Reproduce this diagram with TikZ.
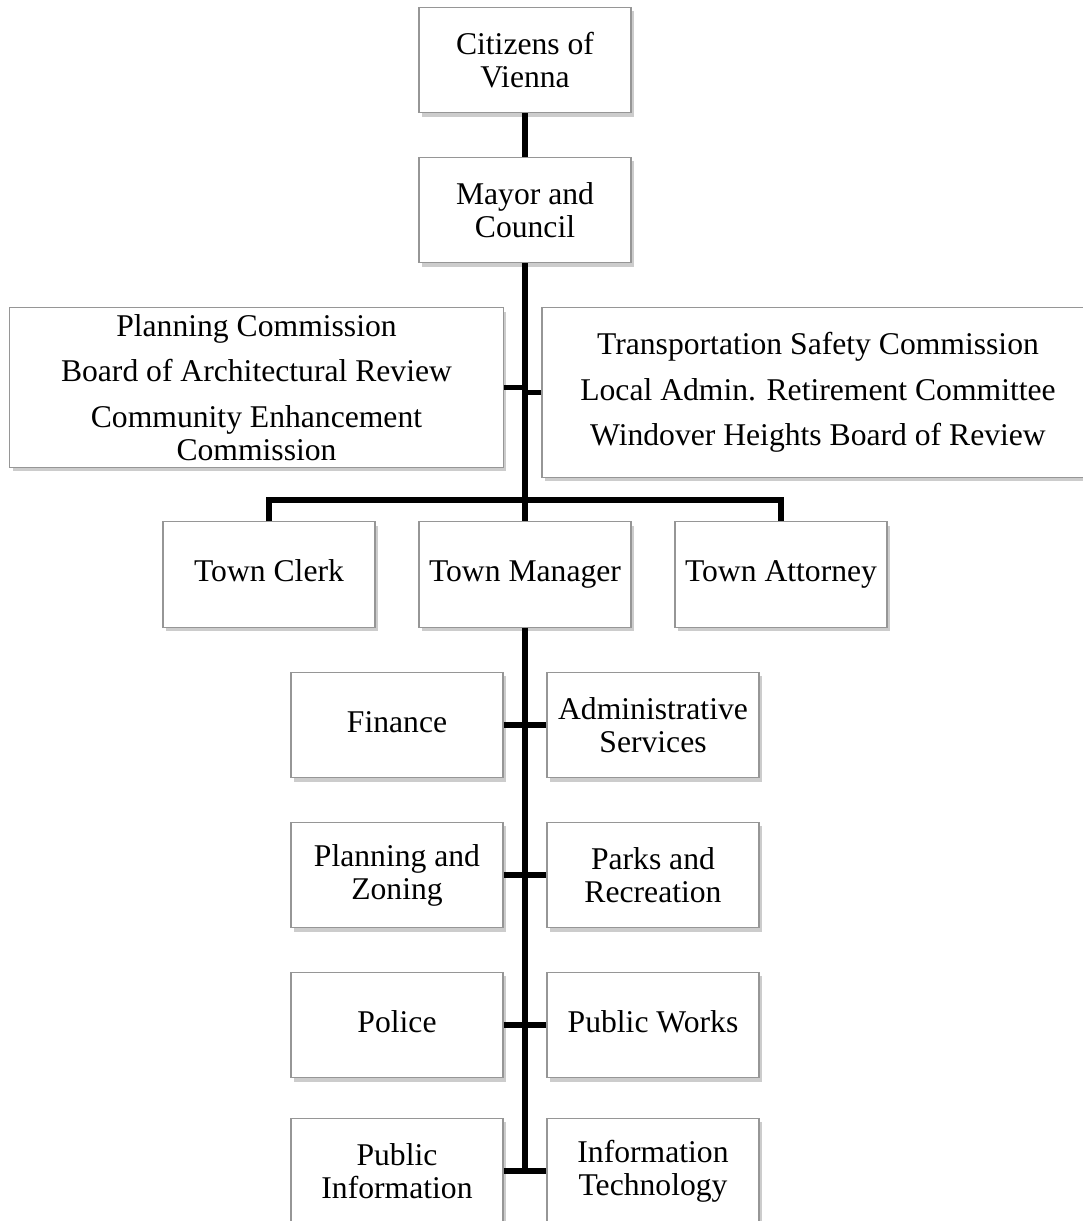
\documentclass[tikz,border=0pt]{standalone}
\usepackage{fontspec}
\setmainfont{Liberation Serif}
\usetikzlibrary{shadows,positioning,calc}
\definecolor{boxGray}{RGB}{150,150,150}
\definecolor{lineBlack}{RGB}{0,0,0}
\tikzset{
  orgBox/.style={draw=boxGray, line width=0.8pt, fill=white, align=center,
    minimum width=5.3cm, minimum height=2.63cm, inner sep=1pt,
    font=\fontsize{22.5}{23.5}\selectfont,
    drop shadow={shadow xshift=0.07cm, shadow yshift=-0.1cm, opacity=0.4}},
  oneLine/.style={orgBox, text height=15pt, text depth=5pt},
  commBox/.style={orgBox, font=\fontsize{22.5}{32.5}\selectfont},
  orgLine/.style={line width=4.2pt, lineBlack}
}
\begin{document}
\begin{tikzpicture}[x=0.025cm,y=-0.025cm]
  \useasboundingbox (0,0) rectangle (1083,1221);
  \clip (0,0) rectangle (1083,1221);
  % top of the chart
  \node[orgBox] (citizens) at (525,60) {Citizens of\\Vienna};
  \node[orgBox] (mayorCouncil) at (525,210) {Mayor and\\Council};
  % boards and commissions
  \node[commBox, minimum width=12.33cm, minimum height=3.98cm] (leftComm) at (256.5,387.5)
    {Planning Commission\\Board of Architectural Review\\Community Enhancement\\[-9pt]Commission};
  \node[commBox, minimum width=13.8cm, minimum height=4.23cm] (rightComm) at (818,392.5)
    {Transportation Safety Commission\\Local Admin. Retirement Committee\\Windover Heights Board of Review};
  % appointed officials
  \node[oneLine] (townClerk) at (269,574.5) {Town Clerk};
  \node[oneLine] (townManager) at (525,574.5) {Town Manager};
  \node[oneLine] (townAttorney) at (781,574.5) {Town Attorney};
  \coordinate (busMid) at (525,500);
  % departments
  \node[oneLine] (finance) at (397,725) {Finance};
  \node[orgBox] (adminServ) at (653,725) {Administrative\\Services};
  \node[orgBox] (planZoning) at (397,875) {Planning and\\Zoning};
  \node[orgBox] (parksRec) at (653,875) {Parks and\\Recreation};
  \node[oneLine] (police) at (397,1025) {Police};
  \node[oneLine] (publicWorks) at (653,1025) {Public Works};
  \node[orgBox] (pubInfo) at (397,1171) {Public\\Information};
  \node[orgBox] (infoTech) at (653,1171) {Information\\Technology};
  % connectors
  \draw[orgLine] (citizens.south) -- (mayorCouncil.north);
  \draw[orgLine] (mayorCouncil.south) -- (townManager.north);
  \draw[orgLine] (leftComm.east) -- (leftComm.east -| mayorCouncil.south);
  \draw[orgLine] (rightComm.west) -- (rightComm.west -| mayorCouncil.south);
  \draw[orgLine] (townClerk.north) |- (busMid) -| (townAttorney.north);
  \draw[orgLine] (townManager.south) -- (townManager.south |- pubInfo.east);
  \draw[orgLine] (finance.east) -- (adminServ.west);
  \draw[orgLine] (planZoning.east) -- (parksRec.west);
  \draw[orgLine] (police.east) -- (publicWorks.west);
  \draw[orgLine] (pubInfo.east) -- (infoTech.west);
\end{tikzpicture}
\end{document}
